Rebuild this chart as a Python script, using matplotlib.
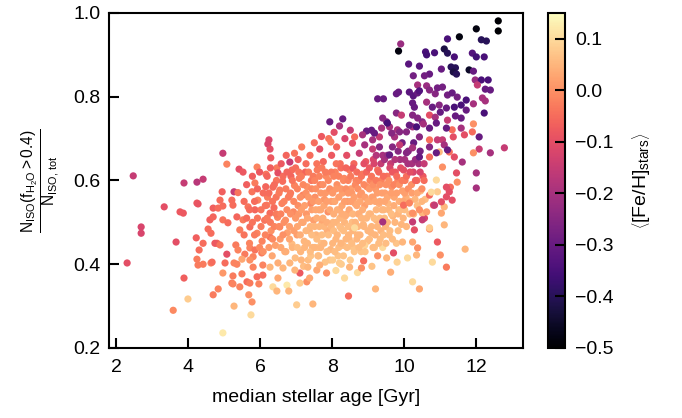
import numpy as np
import matplotlib
matplotlib.use("Agg")
from matplotlib import pyplot as plt

plt.rcParams['font.family'] = ['Liberation Sans', 'DejaVu Sans']
plt.rcParams['mathtext.fontset'] = 'custom'
plt.rcParams['mathtext.rm'] = 'Liberation Sans'
plt.rcParams['mathtext.it'] = 'Liberation Sans:italic'
plt.rcParams['mathtext.bf'] = 'Liberation Sans:bold'

# --- young galaxies / left side of the cloud ---
age_young = [2.47, 2.30, 2.69, 2.69, 3.33, 3.66, 3.58, 3.88, 3.99, 3.77, 3.86, 3.88, 4.24, 4.41,
             4.24, 4.22, 4.30, 4.24, 4.27, 4.41, 4.63, 4.69, 4.83, 4.96, 4.96, 4.60, 4.63, 4.96,
             5.07, 4.94, 4.88, 4.69, 4.80, 4.27, 5.27, 5.74, 5.77, 5.68, 5.43, 5.21, 4.74, 4.88,
             5.07, 4.41, 5.32, 5.38, 5.57, 5.71, 5.85, 6.04, 5.80, 5.24, 5.63, 5.71, 5.96, 5.24,
             5.49, 5.91, 6.07, 6.49, 4.66, 5.02, 5.27, 5.35, 5.80, 6.07, 5.49, 5.71, 6.24, 6.21,
             6.27, 5.41, 5.52, 5.91, 6.29, 6.16, 6.46, 6.49, 6.82, 6.88, 5.85, 5.77, 5.93, 4.96,
             4.83, 5.27, 5.21, 5.24, 5.38, 4.69, 4.55, 4.96, 5.10, 5.35, 5.52, 5.71, 5.66, 5.85,
             6.18, 6.27, 5.43, 5.91, 6.27, 6.54, 6.35, 6.54, 6.82]
frac_young = [0.611, 0.403, 0.489, 0.474, 0.537, 0.453, 0.290, 0.367, 0.317, 0.525, 0.522, 0.594,
              0.596, 0.603, 0.546, 0.463, 0.434, 0.412, 0.398, 0.400, 0.403, 0.327, 0.341, 0.236,
              0.379, 0.506, 0.474, 0.665, 0.639, 0.573, 0.553, 0.534, 0.450, 0.544, 0.300, 0.279,
              0.310, 0.327, 0.346, 0.355, 0.450, 0.446, 0.424, 0.450, 0.446, 0.434, 0.424, 0.439,
              0.434, 0.427, 0.418, 0.353, 0.358, 0.355, 0.353, 0.372, 0.377, 0.370, 0.374, 0.367,
              0.405, 0.403, 0.403, 0.400, 0.393, 0.398, 0.412, 0.410, 0.697, 0.687, 0.675, 0.627,
              0.620, 0.632, 0.654, 0.615, 0.630, 0.618, 0.644, 0.625, 0.594, 0.573, 0.553, 0.539,
              0.534, 0.573, 0.553, 0.541, 0.571, 0.513, 0.484, 0.506, 0.499, 0.513, 0.506, 0.489,
              0.537, 0.530, 0.541, 0.522, 0.482, 0.474, 0.465, 0.489, 0.584, 0.577, 0.565]
feh_young = [-0.15, -0.10, -0.12, -0.12, -0.10, -0.10, -0.01, -0.07, 0.08, -0.08, -0.08, -0.15,
             -0.17, -0.15, -0.08, -0.07, -0.05, -0.03, -0.03, -0.03, -0.02, -0.03, -0.02, 0.12,
             0.01, -0.07, -0.05, -0.15, -0.02, -0.07, -0.05, -0.07, -0.06, -0.09, 0.05, 0.10,
             0.00, 0.00, -0.02, -0.03, -0.08, -0.04, -0.10, -0.05, -0.03, -0.02, -0.03, -0.02,
             -0.04, -0.03, -0.02, -0.02, -0.05, -0.03, -0.02, -0.03, -0.03, -0.05, -0.05, 0.03,
             -0.05, -0.05, -0.02, -0.02, -0.02, -0.02, 0.03, 0.00, -0.12, -0.12, -0.10, -0.10,
             -0.08, -0.02, -0.08, -0.04, -0.03, -0.10, -0.15, -0.05, -0.03, -0.04, -0.02, -0.05,
             -0.05, -0.15, -0.05, -0.05, -0.04, -0.06, -0.05, -0.04, -0.05, -0.06, -0.03, -0.05,
             -0.04, -0.06, -0.03, -0.05, -0.03, -0.02, -0.04, -0.02, -0.05, -0.03, -0.02]

# --- dense core of the distribution ---
age_core = [6.05, 6.12, 6.20, 6.30, 6.38, 6.42, 6.45, 6.15, 6.33, 6.48,
            6.55, 6.60, 6.62, 6.68, 6.70, 6.75, 6.78, 6.85, 6.88, 6.92, 6.95, 6.97, 6.58, 6.72,
            7.02, 7.05, 7.08, 7.12, 7.15, 7.18, 7.22, 7.25, 7.28, 7.30, 7.33, 7.36, 7.40, 7.42,
            7.45, 7.48, 7.05, 7.38, 7.20,
            7.52, 7.55, 7.58, 7.60, 7.63, 7.66, 7.70, 7.72, 7.75, 7.78, 7.80, 7.83, 7.86, 7.88,
            7.92, 7.95, 7.98, 7.65, 7.90,
            8.02, 8.05, 8.08, 8.10, 8.13, 8.16, 8.20, 8.22, 8.25, 8.28, 8.30, 8.33, 8.36, 8.40,
            8.42, 8.45, 8.48, 8.12, 8.35, 8.25,
            8.52, 8.55, 8.58, 8.60, 8.63, 8.66, 8.70, 8.72, 8.75, 8.78, 8.80, 8.83, 8.86, 8.90,
            8.93, 8.96, 8.98,
            9.02, 9.05, 9.08, 9.10, 9.14, 9.17, 9.20, 9.23, 9.26, 9.30, 9.33, 9.36, 9.40, 9.43,
            9.46, 9.48,
            9.52, 9.55, 9.58, 9.62, 9.65, 9.68, 9.72, 9.75, 9.78, 9.82, 9.85, 9.88, 9.92, 9.95, 9.98,
            10.02, 10.05, 10.10, 10.15, 10.20, 10.25, 10.30, 10.35, 10.40, 10.45, 10.52, 10.58,
            6.95, 7.15, 7.50, 7.70, 8.05, 8.20, 8.50,
            7.60, 8.10, 8.50, 8.90, 9.10, 9.40, 9.80, 7.40, 8.70]
frac_core = [0.455, 0.505, 0.560, 0.480, 0.535, 0.445, 0.600, 0.585, 0.420, 0.512,
             0.460, 0.545, 0.598, 0.430, 0.505, 0.475, 0.560, 0.610, 0.448, 0.525, 0.588, 0.415, 0.640, 0.660,
             0.470, 0.540, 0.605, 0.430, 0.500, 0.565, 0.455, 0.620, 0.520, 0.585, 0.410, 0.480, 0.545, 0.600,
             0.440, 0.505, 0.650, 0.660, 0.395,
             0.560, 0.470, 0.625, 0.420, 0.530, 0.590, 0.450, 0.500, 0.645, 0.555, 0.405, 0.610, 0.480, 0.525,
             0.575, 0.435, 0.660, 0.675, 0.700,
             0.500, 0.550, 0.620, 0.460, 0.590, 0.420, 0.530, 0.640, 0.485, 0.570, 0.445, 0.605, 0.515, 0.660,
             0.550, 0.470, 0.625, 0.680, 0.700, 0.400,
             0.580, 0.500, 0.440, 0.640, 0.545, 0.600, 0.470, 0.520, 0.665, 0.565, 0.430, 0.615, 0.495, 0.540,
             0.645, 0.585, 0.455,
             0.520, 0.600, 0.475, 0.560, 0.650, 0.440, 0.580, 0.505, 0.625, 0.545, 0.460, 0.600, 0.660, 0.530,
             0.570, 0.490,
             0.610, 0.545, 0.470, 0.640, 0.585, 0.515, 0.560, 0.620, 0.450, 0.600, 0.530, 0.650, 0.495, 0.575, 0.625,
             0.600, 0.560, 0.640, 0.520, 0.590, 0.620, 0.555, 0.600, 0.640, 0.575, 0.610, 0.555,
             0.665, 0.680, 0.690, 0.705, 0.715, 0.730, 0.720,
             0.440, 0.385, 0.410, 0.445, 0.395, 0.440, 0.405, 0.420, 0.380]
feh_core = [-0.02, -0.04, -0.03, 0.00, -0.05, 0.02, -0.04, -0.06, 0.03, -0.02,
            0.01, -0.02, -0.05, 0.04, 0.00, 0.02, -0.03, -0.06, 0.06, -0.01, -0.02, 0.06, -0.08, -0.06,
            0.02, 0.00, -0.03, 0.05, 0.03, -0.02, 0.05, -0.06, 0.01, 0.00, 0.06, 0.04, -0.01, -0.04,
            0.05, 0.02, -0.07, -0.05, 0.06,
            0.00, 0.05, -0.03, 0.06, 0.02, -0.02, 0.06, 0.03, -0.06, 0.01, 0.07, -0.01, 0.04, 0.00,
            0.02, 0.05, -0.08, -0.10, -0.04,
            0.05, 0.01, -0.02, 0.05, 0.00, 0.07, 0.03, -0.05, 0.06, 0.02, 0.06, -0.01, 0.04, -0.10,
            0.01, 0.05, -0.03, -0.06, -0.12, 0.08,
            0.02, 0.06, 0.07, -0.06, 0.03, -0.02, 0.05, 0.05, -0.15, 0.01, 0.07, -0.03, 0.05, 0.02,
            -0.08, 0.00, 0.06,
            0.06, -0.02, 0.05, 0.03, -0.12, 0.07, 0.01, 0.05, -0.05, 0.04, 0.06, -0.02, -0.20, 0.05,
            0.02, 0.05,
            -0.04, 0.05, 0.06, -0.15, 0.00, 0.05, 0.03, -0.08, 0.07, -0.02, 0.06, -0.20, 0.05, 0.02, -0.10,
            -0.03, 0.04, -0.20, 0.06, 0.00, -0.12, 0.05, -0.05, -0.20, 0.06, -0.08, 0.06,
            -0.04, -0.03, -0.05, -0.08, -0.10, -0.20, -0.15,
            0.07, 0.10, 0.08, 0.09, 0.07, 0.10, 0.09, 0.07, 0.10]

# --- more points filling the crowded middle ---
age_mid = [5.55, 5.55, 5.62, 5.62, 5.70, 5.70, 5.78, 5.78, 5.84, 5.84, 5.92, 5.92, 5.98, 5.98,
           6.02, 6.02, 6.08, 6.08, 6.14, 6.14, 6.19, 6.19, 6.24, 6.24, 6.28, 6.28, 6.34, 6.34,
           6.39, 6.39, 6.44, 6.44,
           6.52, 6.52, 6.57, 6.57, 6.63, 6.63, 6.66, 6.66, 6.71, 6.71, 6.74, 6.74, 6.81, 6.81,
           6.84, 6.84, 6.89, 6.89, 6.93, 6.93, 6.98, 6.98,
           7.03, 7.03, 7.03, 7.07, 7.07, 7.11, 7.11, 7.14, 7.14, 7.14, 7.19, 7.19, 7.23, 7.23,
           7.27, 7.27, 7.27, 7.31, 7.31, 7.34, 7.34, 7.39, 7.39, 7.43, 7.43, 7.43, 7.47, 7.47,
           7.51, 7.51, 7.51, 7.54, 7.54, 7.57, 7.57, 7.57, 7.62, 7.62, 7.64, 7.64, 7.68, 7.68,
           7.68, 7.71, 7.71, 7.74, 7.74, 7.77, 7.77, 7.77, 7.81, 7.81, 7.85, 7.85, 7.85, 7.89,
           7.89, 7.93, 7.93, 7.93, 7.97, 7.97, 7.97,
           8.01, 8.01, 8.04, 8.04, 8.04, 8.07, 8.07, 8.11, 8.11, 8.11, 8.14, 8.14, 8.18, 8.18,
           8.18, 8.21, 8.21, 8.24, 8.24, 8.24, 8.27, 8.27, 8.31, 8.31, 8.31, 8.34, 8.34, 8.38,
           8.38, 8.38, 8.41, 8.41, 8.44, 8.44, 8.44, 8.47, 8.47,
           8.51, 8.51, 8.51, 8.54, 8.54, 8.57, 8.57, 8.57, 8.61, 8.61, 8.64, 8.64, 8.68, 8.68,
           8.68, 8.71, 8.71, 8.74, 8.74, 8.74, 8.77, 8.77, 8.81, 8.81, 8.81, 8.84, 8.84, 8.88,
           8.88, 8.88, 8.91, 8.91, 8.95, 8.95, 8.99, 8.99,
           9.03, 9.03, 9.03, 9.06, 9.06, 9.09, 9.09, 9.13, 9.13, 9.13, 9.16, 9.16, 9.19, 9.19,
           9.22, 9.22, 9.22, 9.25, 9.25, 9.29, 9.29, 9.32, 9.32, 9.32, 9.35, 9.35, 9.38, 9.38,
           9.42, 9.42, 9.45, 9.45, 9.45, 9.49, 9.49,
           9.53, 9.53, 9.53, 9.57, 9.57, 9.60, 9.60, 9.64, 9.64, 9.67, 9.67, 9.67, 9.71, 9.71,
           9.74, 9.74, 9.79, 9.79, 9.83, 9.83, 9.83, 9.86, 9.86, 9.90, 9.90, 9.94, 9.94, 9.97,
           9.97,
           10.01, 10.01, 10.01, 10.06, 10.06, 10.11, 10.11, 10.16, 10.16, 10.21, 10.21, 10.26,
           10.26, 10.31, 10.31, 10.36, 10.36, 10.44, 10.44, 10.49, 10.49, 10.55, 10.55]
frac_mid = [0.47, 0.55, 0.51, 0.59, 0.45, 0.53, 0.50, 0.61, 0.55, 0.47, 0.51, 0.58, 0.44, 0.62,
            0.53, 0.49, 0.57, 0.43, 0.47, 0.54, 0.61, 0.51, 0.44, 0.57, 0.50, 0.63, 0.55, 0.46,
            0.59, 0.49, 0.52, 0.56,
            0.49, 0.57, 0.52, 0.44, 0.47, 0.61, 0.55, 0.50, 0.43, 0.58, 0.53, 0.62, 0.49, 0.46,
            0.57, 0.52, 0.60, 0.44, 0.48, 0.55, 0.51, 0.63,
            0.49, 0.58, 0.44, 0.52, 0.62, 0.47, 0.56, 0.53, 0.41, 0.61, 0.50, 0.59, 0.44, 0.54,
            0.57, 0.48, 0.64, 0.51, 0.45, 0.56, 0.62, 0.49, 0.43, 0.53, 0.58, 0.47, 0.61, 0.55,
            0.49, 0.44, 0.60, 0.53, 0.58, 0.46, 0.51, 0.64, 0.55, 0.42, 0.49, 0.61, 0.53, 0.57,
            0.44, 0.47, 0.63, 0.51, 0.59, 0.45, 0.54, 0.49, 0.57, 0.62, 0.50, 0.43, 0.55, 0.47,
            0.60, 0.53, 0.41, 0.58, 0.49, 0.62, 0.55,
            0.45, 0.57, 0.52, 0.61, 0.48, 0.43, 0.55, 0.50, 0.58, 0.64, 0.47, 0.53, 0.56, 0.44,
            0.61, 0.49, 0.51, 0.58, 0.45, 0.63, 0.52, 0.54, 0.48, 0.60, 0.42, 0.55, 0.50, 0.46,
            0.58, 0.63, 0.52, 0.44, 0.57, 0.49, 0.60, 0.53, 0.46,
            0.49, 0.61, 0.55, 0.45, 0.57, 0.52, 0.63, 0.48, 0.56, 0.43, 0.50, 0.59, 0.46, 0.54,
            0.62, 0.58, 0.49, 0.52, 0.44, 0.60, 0.55, 0.47, 0.61, 0.51, 0.57, 0.45, 0.53, 0.59,
            0.49, 0.64, 0.56, 0.43, 0.51, 0.62, 0.55, 0.48,
            0.58, 0.46, 0.63, 0.52, 0.55, 0.49, 0.61, 0.56, 0.44, 0.59, 0.51, 0.64, 0.47, 0.55,
            0.60, 0.53, 0.66, 0.49, 0.57, 0.45, 0.62, 0.55, 0.51, 0.59, 0.48, 0.64, 0.57, 0.53,
            0.61, 0.47, 0.55, 0.65, 0.51, 0.59, 0.45,
            0.56, 0.50, 0.66, 0.60, 0.53, 0.48, 0.63, 0.57, 0.52, 0.62, 0.46, 0.68, 0.54, 0.59,
            0.50, 0.65, 0.57, 0.61, 0.52, 0.67, 0.48, 0.59, 0.55, 0.63, 0.53, 0.60, 0.69, 0.55,
            0.51,
            0.57, 0.65, 0.53, 0.61, 0.49, 0.58, 0.67, 0.55, 0.62, 0.64, 0.57, 0.52, 0.69, 0.60,
            0.65, 0.57, 0.54, 0.62, 0.67, 0.58, 0.55, 0.64, 0.60]
feh_mid = [-0.04, -0.05, -0.05, -0.07, -0.02, -0.05, -0.04, -0.07, -0.05, -0.03, -0.04, -0.06, -0.01, -0.08,
           -0.04, -0.03, -0.05, 0.00, -0.02, -0.04, -0.06, -0.03, 0.01, -0.05, -0.03, -0.07, -0.04, -0.01,
           -0.05, -0.02, -0.03, -0.04,
           -0.01, -0.03, -0.02, 0.03, 0.00, -0.05, -0.02, 0.00, 0.04, -0.03, -0.01, -0.06, 0.02, 0.03,
           -0.03, 0.00, -0.04, 0.05, 0.02, -0.01, 0.01, -0.05,
           0.03, -0.02, 0.06, 0.01, -0.04, 0.04, 0.00, 0.02, 0.05, -0.03, 0.03, -0.01, 0.05, 0.02,
           0.00, 0.05, -0.05, 0.03, 0.05, 0.01, -0.03, 0.05, 0.06, 0.02, -0.01, 0.06, -0.03, 0.01,
           0.05, 0.05, -0.02, 0.03, 0.00, 0.06, 0.04, -0.04, 0.02, 0.06, 0.05, -0.02, 0.03, 0.01,
           0.05, 0.06, -0.03, 0.04, 0.00, 0.05, 0.03, 0.05, 0.01, -0.03, 0.04, 0.06, 0.02, 0.06,
           -0.01, 0.03, 0.07, 0.00, 0.05, -0.03, 0.02,
           0.05, 0.01, 0.04, -0.02, 0.06, 0.06, 0.03, 0.05, 0.01, -0.04, 0.05, 0.04, 0.02, 0.06,
           -0.02, 0.06, 0.05, 0.01, 0.05, -0.05, 0.04, 0.03, 0.06, -0.01, 0.07, 0.02, 0.05, 0.05,
           0.00, -0.06, 0.04, 0.06, 0.01, 0.06, -0.02, 0.03, 0.05,
           0.06, -0.03, 0.02, 0.06, 0.01, 0.05, -0.08, 0.05, 0.02, 0.07, 0.05, -0.01, 0.05, 0.03,
           -0.05, 0.00, 0.05, 0.04, 0.06, -0.02, 0.03, 0.05, -0.04, 0.05, 0.01, 0.06, 0.04, -0.01,
           0.05, -0.10, 0.02, 0.07, 0.05, -0.06, 0.03, 0.05,
           0.01, 0.06, -0.08, 0.05, 0.03, 0.05, -0.04, 0.02, 0.06, 0.00, 0.06, -0.12, 0.05, 0.03,
           -0.03, 0.05, -0.18, 0.05, 0.02, 0.06, -0.06, 0.03, 0.06, 0.00, 0.05, -0.15, 0.02, 0.05,
           -0.05, 0.06, 0.03, -0.20, 0.06, 0.00, 0.06,
           0.03, 0.05, -0.22, 0.00, 0.05, 0.06, -0.12, 0.02, 0.06, -0.08, 0.06, -0.25, 0.04, -0.02,
           0.05, -0.18, 0.02, -0.05, 0.05, -0.25, 0.06, 0.00, 0.04, -0.10, 0.06, -0.03, -0.28, 0.03,
           0.05,
           0.02, -0.20, 0.06, -0.05, 0.05, 0.00, -0.25, 0.04, -0.10, -0.20, 0.02, 0.05, -0.30, -0.06,
           -0.22, 0.03, 0.06, -0.12, -0.28, 0.00, 0.05, -0.15, -0.05]

# --- lower and right edge of the cloud ---
age_edge = [11.33, 11.17, 11.28, 11.11, 11.03, 10.81, 10.70, 10.56, 10.70, 11.11, 10.92, 11.00,
            11.17, 11.69, 10.78, 10.42, 10.23, 9.62, 9.20, 8.45, 8.34, 8.62, 10.09, 10.34, 9.70,
            9.51, 9.26, 9.95, 10.23, 10.37, 9.40, 10.23, 10.28, 9.98, 10.14, 10.23, 10.50, 10.62,
            8.87, 8.81, 8.48, 8.20, 8.01, 10.92, 10.75, 10.84, 11.03, 10.70, 10.50, 10.42,
            7.01, 7.46, 6.35, 6.74, 6.79, 6.46, 7.10, 7.29, 7.37, 7.10, 7.32, 7.57, 7.65, 7.84,
            6.82, 6.96, 6.63, 6.49, 6.27]
frac_edge = [0.553, 0.561, 0.584, 0.537, 0.522, 0.541, 0.565, 0.510, 0.484, 0.494, 0.453, 0.422,
             0.393, 0.436, 0.405, 0.341, 0.358, 0.381, 0.341, 0.324, 0.367, 0.487, 0.415, 0.422,
             0.427, 0.415, 0.420, 0.453, 0.453, 0.439, 0.501, 0.501, 0.482, 0.541, 0.546, 0.522,
             0.522, 0.525, 0.408, 0.391, 0.393, 0.403, 0.410, 0.573, 0.572, 0.541, 0.549, 0.487,
             0.506, 0.530,
             0.303, 0.305, 0.346, 0.350, 0.336, 0.336, 0.379, 0.358, 0.367, 0.355, 0.393, 0.386,
             0.398, 0.379, 0.403, 0.386, 0.391, 0.403, 0.393]
feh_edge = [-0.10, -0.10, -0.05, 0.05, 0.03, -0.10, -0.05, -0.12, 0.00, 0.05, -0.08, 0.00,
            -0.03, 0.05, 0.10, 0.03, 0.10, 0.04, 0.05, -0.05, 0.10, 0.10, 0.10, 0.05,
            -0.10, 0.05, 0.00, 0.05, 0.03, 0.00, -0.20, -0.15, -0.10, -0.05, -0.02, 0.00,
            0.05, 0.02, -0.05, 0.00, 0.05, 0.08, 0.08, 0.08, 0.10, -0.15, -0.10, 0.08,
            -0.15, 0.00,
            0.08, 0.05, 0.10, 0.12, 0.05, 0.05, -0.08, 0.00, 0.03, 0.08, 0.05, 0.03,
            0.04, 0.00, 0.05, 0.05, 0.05, 0.04, 0.05]

# --- old, metal-poor galaxies (upper right) ---
age_old = [12.61, 12.61, 12.00, 11.53, 9.84, 9.90, 12.14, 12.28, 11.20, 10.59, 10.62, 10.84,
           11.11, 11.20, 11.39, 11.89, 12.00, 12.22, 10.12, 10.42, 11.30, 11.42, 11.36, 11.45,
           11.80, 11.92, 11.97, 12.14, 12.33, 11.03, 10.70, 10.25, 10.56, 10.37, 10.62, 12.03,
           12.25, 12.39, 9.84, 9.78, 10.14, 10.25, 10.37, 10.42, 10.70, 10.86, 10.92, 11.06,
           11.20, 11.33, 11.47, 9.26, 9.42, 12.17, 12.25, 11.72, 11.58, 10.23, 10.28, 10.62,
           10.78, 10.97, 11.17, 11.39, 11.72, 11.92, 12.22, 8.29, 8.95, 9.09, 9.40, 9.51,
           9.78, 9.92, 10.23, 10.37, 10.50, 10.70, 10.86, 11.00, 11.20, 11.42, 11.58, 11.92,
           11.89, 12.08, 12.39, 12.78, 12.08, 11.58, 11.67, 11.33, 11.36, 11.17, 11.06, 10.53,
           10.70, 10.23, 10.06, 9.81, 9.73, 9.59, 9.37, 9.31, 9.12, 8.84, 8.62, 10.70,
           10.92, 11.11, 11.92, 12.00, 11.45, 11.47, 12.00, 11.61, 11.39, 11.25, 10.97, 10.70,
           11.06, 10.89, 11.17, 11.25, 7.93, 9.17, 9.53, 9.65, 9.87, 10.14, 10.34, 10.89,
           10.42, 8.56, 8.90, 9.12, 9.31, 9.59, 9.87, 10.06, 10.23, 10.42, 10.70, 10.89,
           11.20, 7.96]
frac_old = [0.981, 0.957, 0.962, 0.943, 0.909, 0.926, 0.936, 0.933, 0.938, 0.907, 0.900, 0.905,
            0.914, 0.904, 0.895, 0.904, 0.895, 0.895, 0.878, 0.873, 0.871, 0.869, 0.859, 0.854,
            0.864, 0.861, 0.840, 0.840, 0.840, 0.866, 0.854, 0.850, 0.850, 0.828, 0.826, 0.828,
            0.818, 0.816, 0.811, 0.807, 0.811, 0.802, 0.809, 0.814, 0.816, 0.807, 0.821, 0.823,
            0.804, 0.809, 0.799, 0.795, 0.795, 0.797, 0.790, 0.792, 0.780, 0.785, 0.775, 0.787,
            0.775, 0.780, 0.773, 0.775, 0.768, 0.783, 0.761, 0.747, 0.718, 0.720, 0.749, 0.740,
            0.761, 0.756, 0.756, 0.749, 0.740, 0.756, 0.751, 0.763, 0.744, 0.754, 0.749, 0.735,
            0.716, 0.704, 0.666, 0.678, 0.675, 0.725, 0.709, 0.721, 0.704, 0.725, 0.697, 0.735,
            0.725, 0.728, 0.716, 0.721, 0.704, 0.728, 0.725, 0.704, 0.697, 0.709, 0.704, 0.697,
            0.697, 0.685, 0.666, 0.618, 0.618, 0.596, 0.582, 0.644, 0.656, 0.668, 0.668, 0.656,
            0.632, 0.601, 0.584, 0.573, 0.740, 0.713, 0.737, 0.713, 0.716, 0.732, 0.728, 0.737,
            0.704, 0.689, 0.685, 0.675, 0.680, 0.661, 0.685, 0.666, 0.678, 0.656, 0.680, 0.666,
            0.673, 0.692]
feh_old = [-0.50, -0.50, -0.48, -0.48, -0.48, -0.22, -0.40, -0.40, -0.35, -0.35, -0.36, -0.35,
           -0.42, -0.40, -0.35, -0.33, -0.36, -0.35, -0.32, -0.32, -0.40, -0.40, -0.42, -0.40,
           -0.45, -0.30, -0.22, -0.35, -0.35, -0.30, -0.30, -0.28, -0.28, -0.20, -0.22, -0.15,
           -0.30, -0.30, -0.30, -0.30, -0.32, -0.32, -0.30, -0.33, -0.25, -0.25, -0.28, -0.28,
           -0.28, -0.30, -0.28, -0.30, -0.30, -0.20, -0.20, -0.35, -0.35, -0.30, -0.30, -0.20,
           -0.30, -0.25, -0.30, -0.35, -0.30, -0.20, -0.35, -0.30, -0.30, -0.30, -0.25, -0.25,
           -0.25, -0.15, -0.25, -0.25, -0.25, -0.10, -0.20, -0.30, -0.15, -0.30, -0.30, 0.00,
           -0.05, -0.30, -0.20, -0.15, -0.15, -0.20, -0.10, -0.05, -0.10, -0.30, -0.15, -0.20,
           -0.30, -0.20, -0.25, -0.20, -0.20, -0.20, -0.20, -0.15, -0.20, -0.20, -0.05, -0.05,
           -0.15, -0.20, 0.00, -0.20, -0.10, 0.00, -0.20, -0.20, -0.10, -0.05, 0.05, -0.05,
           0.00, 0.10, -0.10, -0.10, -0.30, -0.30, -0.35, -0.25, -0.25, -0.30, -0.35, -0.30,
           -0.25, -0.10, -0.20, -0.15, -0.25, -0.30, -0.15, -0.25, -0.20, -0.30, -0.25, -0.30,
           -0.30, -0.03]

age = np.concatenate([age_young, age_core, age_mid, age_edge, age_old])
frac = np.concatenate([frac_young, frac_core, frac_mid, frac_edge, frac_old])
feh = np.concatenate([feh_young, feh_core, feh_mid, feh_edge, feh_old])

fig = plt.figure(figsize=(6.82, 4.18), dpi=100)
ax = fig.add_axes([0.160, 0.1675, 0.607, 0.8015])
cax = fig.add_axes([0.803, 0.1675, 0.026, 0.8015])

sc = ax.scatter(age, frac, c=feh, cmap='magma', vmin=-0.5, vmax=0.15,
                s=27, linewidths=0)

ax.set_xlim(1.8, 13.3)
ax.set_ylim(0.2, 1.0)
ax.set_xticks([2, 4, 6, 8, 10, 12])
ax.set_yticks([0.2, 0.4, 0.6, 0.8, 1.0])
ax.tick_params(direction='in', length=7, width=1.5, labelsize=14)
ax.tick_params(axis='x', pad=8)
ax.tick_params(axis='y', pad=6)
for sp in ax.spines.values():
    sp.set_linewidth(1.5)

ax.set_xlabel('median stellar age [Gyr]', fontsize=14, labelpad=9)
ax.set_ylabel(r'$\frac{\mathrm{N_{ISO}(f_{H_2O}>0.4)}}{\mathrm{N_{ISO,\,tot}}}$', fontsize=16, labelpad=8)

cb = fig.colorbar(sc, cax=cax)
cb.set_ticks([0.1, 0.0, -0.1, -0.2, -0.3, -0.4, -0.5])
cb.ax.tick_params(direction='in', length=7, width=1.5, labelsize=14, pad=7)
cb.outline.set_linewidth(1.5)
cb.set_label(r'$\left\langle[\mathrm{Fe/H}]_{\mathrm{stars}}\right\rangle$', fontsize=14, labelpad=12)

fig.savefig('out.png', dpi=100)
